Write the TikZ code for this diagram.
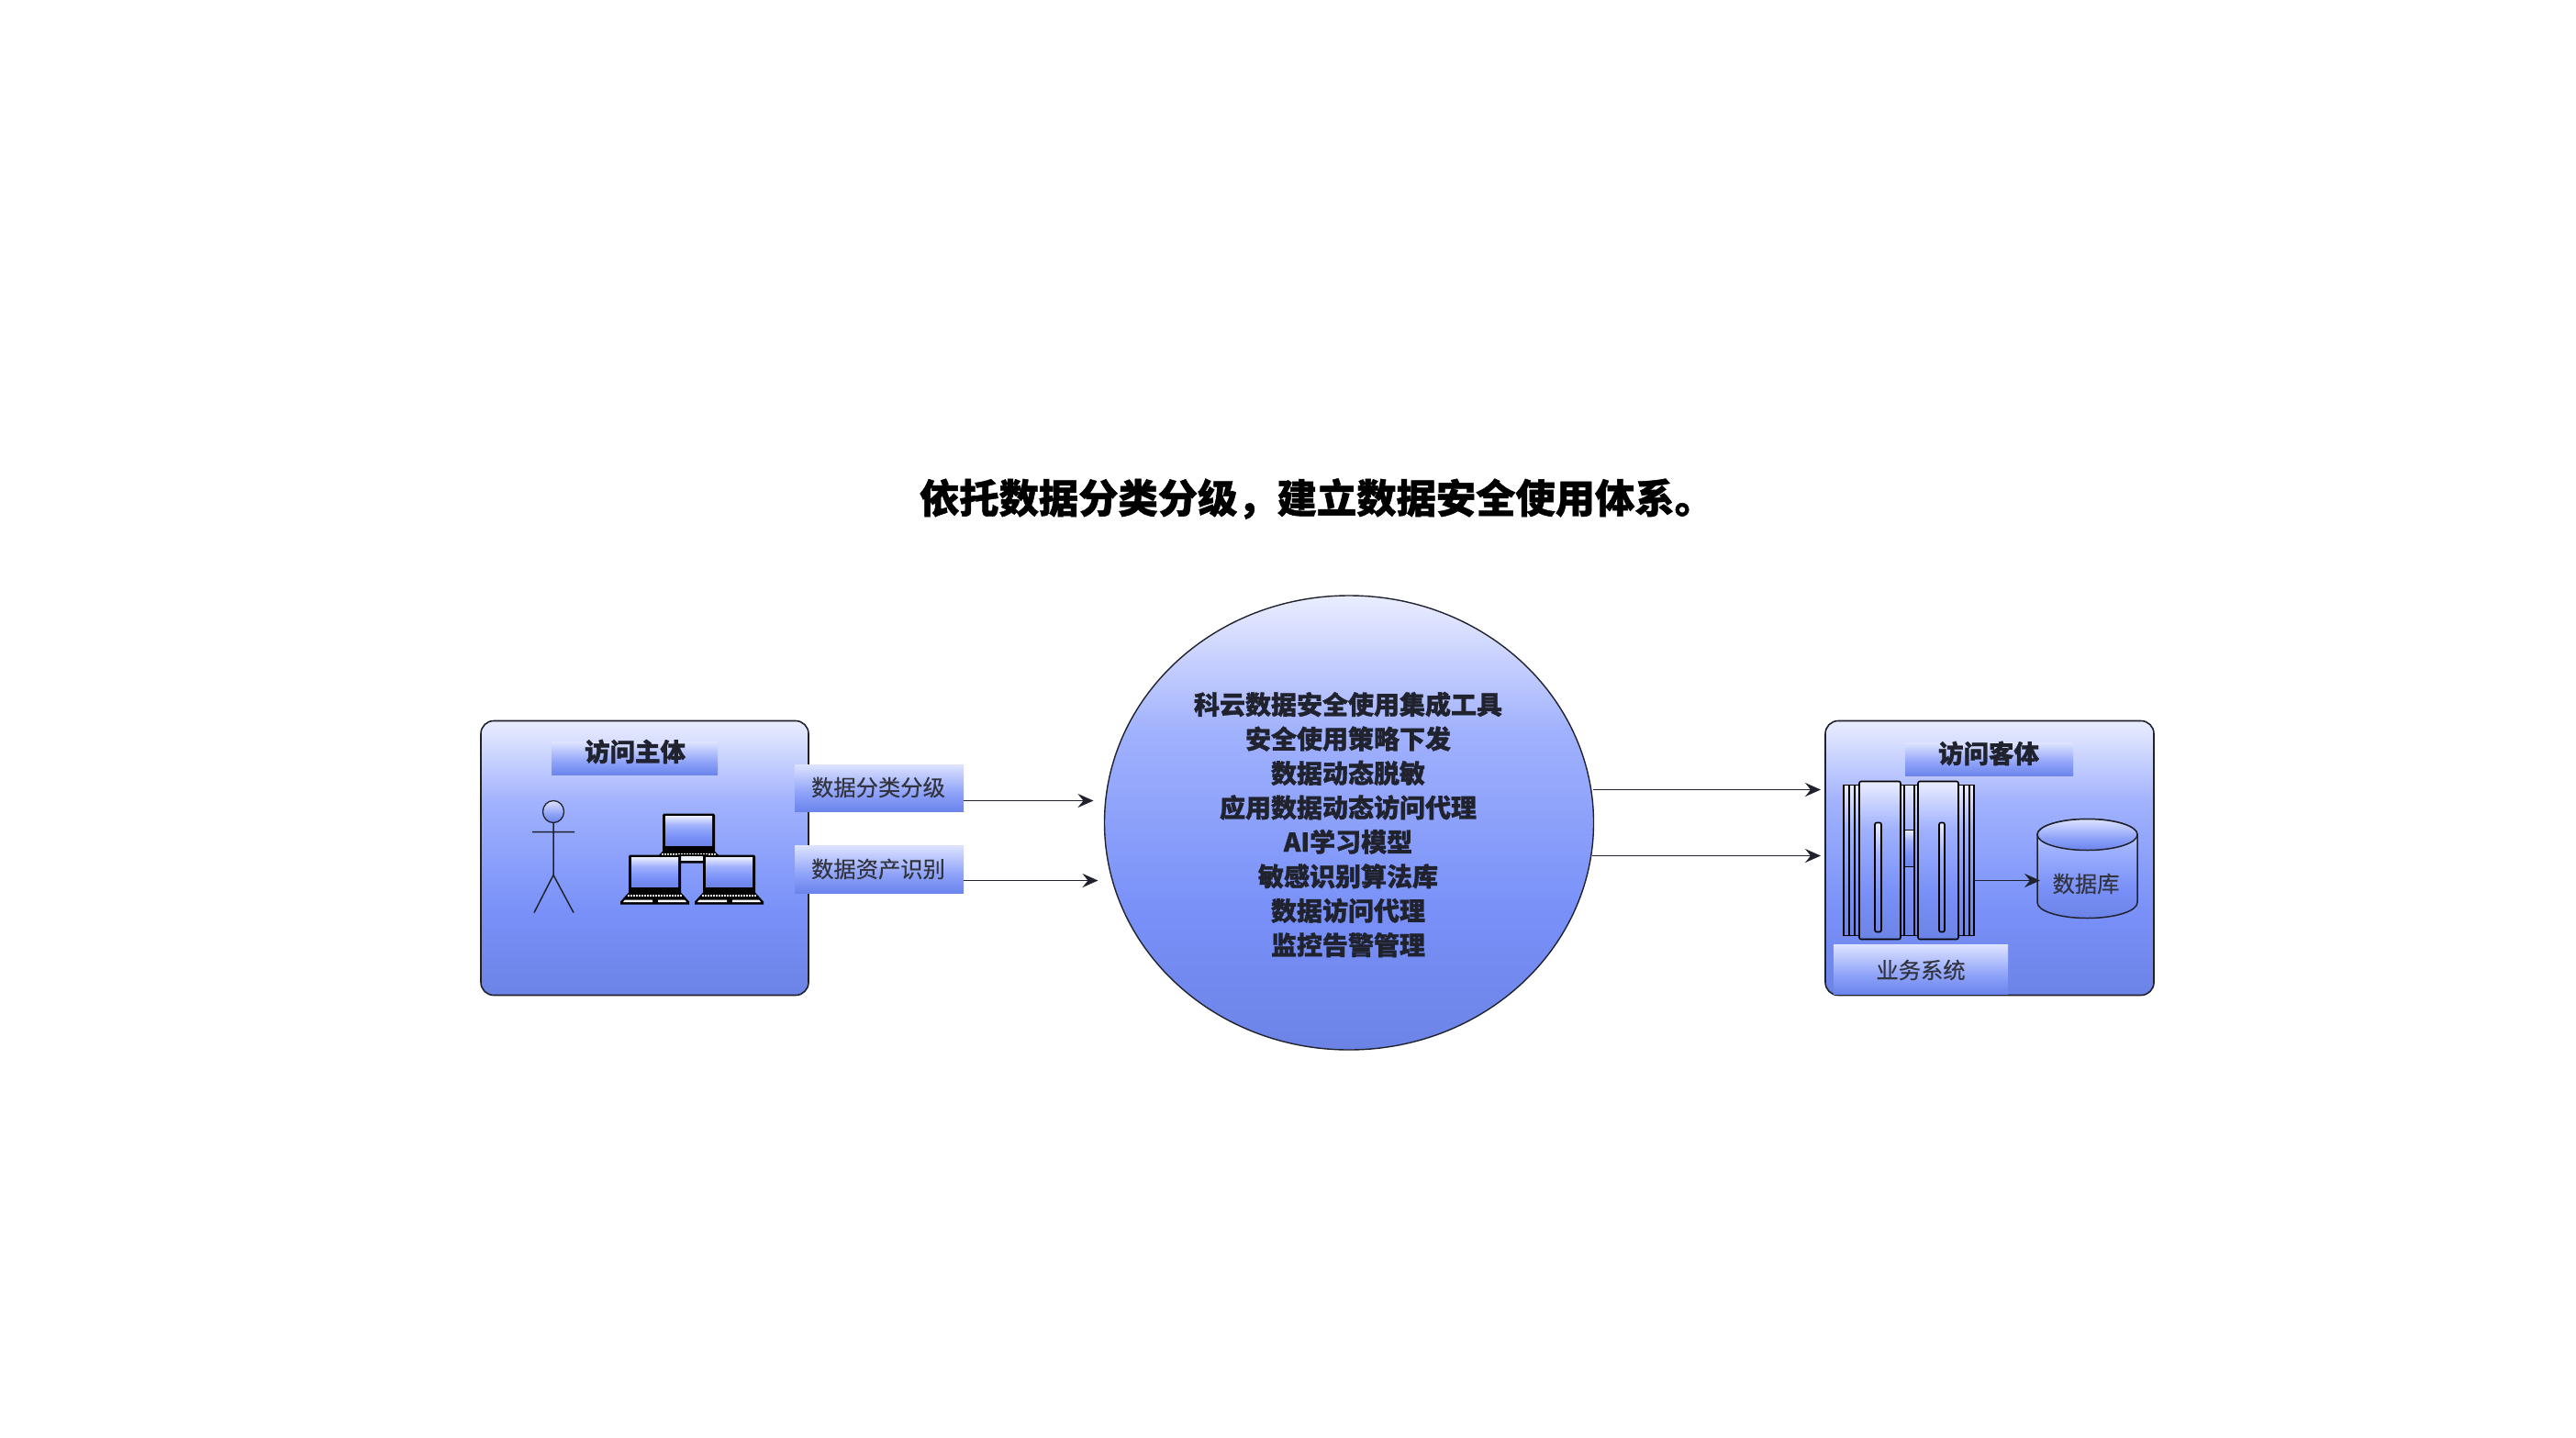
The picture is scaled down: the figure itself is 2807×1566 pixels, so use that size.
\documentclass[tikz,border=0pt]{standalone}
\usepackage{fontspec}
\setmainfont{Noto Sans CJK SC}
\newfontfamily\heavy[BoldFeatures={FakeBold=1.1}]{Noto Sans CJK SC}
\newfontfamily\medium[FakeBold=0.35]{Noto Sans CJK SC}
\usetikzlibrary{arrows.meta,calc,shapes.geometric}
\definecolor{ink}{HTML}{20222E}
\definecolor{mb1}{HTML}{EAEDFF}
\definecolor{mb2}{HTML}{A0B1FD}
\definecolor{mb3}{HTML}{7890F8}
\definecolor{mb4}{HTML}{6C83E6}
\definecolor{lb1}{HTML}{DDE3FF}
\definecolor{lb2}{HTML}{8FA3F9}
\definecolor{lb3}{HTML}{6A84EC}
\pgfdeclareverticalshading{mainbg}{100bp}{
 color(0bp)=(mb4); color(25bp)=(mb4); color(40bp)=(mb3); color(60bp)=(mb2); color(75bp)=(mb1); color(100bp)=(mb1)}
\pgfdeclareverticalshading{labbg}{100bp}{
 color(0bp)=(lb3); color(25bp)=(lb3); color(45bp)=(lb2); color(75bp)=(lb1); color(100bp)=(lb1)}
\newcommand{\fs}[2][]{\fontsize{#2}{#2}\selectfont}
\tikzset{
 x=1pt,y=-1pt,
 every node/.style={inner sep=0pt,outer sep=0pt},
 mainbox/.style={draw=ink,line width=1.6pt,rounded corners=14pt,shading=mainbg,minimum width=#1,minimum height=299pt},
 labbox/.style 2 args={shading=labbg,minimum width=#1,minimum height=#2},
 head/.style={text=ink,font=\heavy\fs{27.5}\bfseries},
 small/.style={text=ink!92,font=\medium\fs{24.3}},
 conn/.style={draw=ink,line width=1.9pt,-{Stealth[length=17pt,width=15pt,inset=6pt]}},
 part/.style={draw=black,line width=1.6pt,shading=mainbg},
 laptop/.pic={
  \fill[black,rounded corners=1.5pt] (-2,-2) rectangle (55,40);
  \shade[shading=mainbg] (1,1) rectangle (52,33);
  \fill[black] (-1,38) -- (54,38) -- (64,49) -- (64,52) -- (-11,52) -- (-11,49) -- cycle;
  \draw[white,line width=2pt,dash pattern=on 1.5pt off 1.5pt] (-3,42) -- (56,42);
  \fill[white] (-6,47) -- (24,47) -- (24,49.5) -- (-8,49.5) -- cycle;
  \fill[white] (30,47) -- (59,47) -- (61,49.5) -- (30,49.5) -- cycle;
 }
}
\begin{document}
\begin{tikzpicture}
\useasboundingbox[fill=white] (0,0) rectangle (2807,1566);
\begin{scope}[yshift=-1.5pt]
\node (title) at (1435,542) {\heavy\fs{43.3}\bfseries\textcolor{black}{依托数据分类分级，建立数据安全使用体系。}};

% left box
\node[mainbox=357pt] (lbox) at (702.5,933.5) {};
\node[labbox={181pt}{36pt}] (ltitle) at (691.5,825) {};
\node[head] (ltext) at (692,817.5) {访问主体};

% person
\node[draw=ink,line width=1.3pt,ellipse,minimum width=23pt,minimum height=24pt,shading=labbg] (phead) at (603,883) {};
\coordinate (arml) at (580,905);
\coordinate (armr) at (626,905);
\coordinate (hip) at (603,952);
\coordinate (legl) at (582,993);
\coordinate (legr) at (625,993);
\draw[ink,line width=1.5pt] (phead.south) -- (hip) (arml) -- (armr) (legl) -- (hip) -- (legr);

% laptops
\pic at (724,887) {laptop};
\node[draw=black,fill=white!85!lb2,line width=2pt,minimum width=30pt,minimum height=7pt] (lanbar) at (755,933.5) {};
\pic at (687,932) {laptop};
\pic at (768,932) {laptop};

% labels left
\node[labbox={184pt}{51pt}] (lab1) at (958,857) {};
\node[small] at (957,856.5) {数据分类分级};
\node[labbox={184pt}{52pt}] (lab2) at (958,945.5) {};
\node[small] at (957,945.5) {数据资产识别};

% right box
\node[mainbox=358pt] (rbox) at (2168,933.5) {};
\node[labbox={183pt}{36pt}] (rtitle) at (2167.5,826) {};
\node[head] (rtext) at (2167,819.5) {访问客体};

% server
\node[part,minimum width=142pt,minimum height=164pt] (srv) at (2080,936) {};
\foreach \xa/\xb in {2015/2021,2021/2026,2134/2140,2140/2146}
  \draw[black,line width=1.6pt] (\xa,854) -- (\xa,1018) (\xb,854) -- (\xb,1018);
\draw[part,rounded corners=2pt] (2026,850) rectangle (2071,1022);
\draw[part,rounded corners=2pt] (2090,850) rectangle (2134,1022);
\draw[part,rounded corners=2pt] (2043,895) rectangle (2050,1014);
\draw[part,rounded corners=2pt] (2113,895) rectangle (2119,1014);
\draw[black,line width=1.6pt] (2075,854) -- (2075,1018) (2086,854) -- (2086,1018);
\draw[part] (2075,903) rectangle (2086,943);

% database
\node[minimum width=109pt,minimum height=91pt] (db) at (2274.5,953.5) {};
\draw[part,draw=ink,line width=1.5pt] (2220,908) -- (2220,982) arc[start angle=180,end angle=360,x radius=54.5pt,y radius=17pt] -- (2329,908) arc[start angle=0,end angle=180,x radius=54.5pt,y radius=17pt] -- cycle;
\draw[draw=ink,line width=1.5pt,shading=labbg] (2274.5,908) ellipse[x radius=54.5pt,y radius=17pt];
\node[small] at (2273,961.5) {数据库};

\node[labbox={190pt}{54pt}] (biz) at (2093,1055) {};
\node[small] at (2093,1055.5) {业务系统};

% circle
\node[draw=ink,line width=1.4pt,ellipse,shading=mainbg,minimum width=533pt,minimum height=495pt] (core) at (1470,895) {};
\node[align=center,text=ink,font=\heavy\fontsize{28}{37.45}\selectfont\bfseries] (coretext) at (1469,897) {%
科云数据安全使用集成工具\\
安全使用策略下发\\
数据动态脱敏\\
应用数据动态访问代理\\
AI学习模型\\
敏感识别算法库\\
数据访问代理\\
监控告警管理};

% connectors
\coordinate (a1) at ($(lab1.east)+(0,14)$);
\coordinate (a2) at ($(lab2.east)+(0,12.5)$);
\coordinate (b1) at ($(core.east)+(0,-36)$);
\coordinate (b2) at ($(core.east)+(0,36)$);
\coordinate (d1) at ($(srv.east)+(0,22)$);
\draw[conn,shorten >=12pt] (a1) -- (a1 -| core.west);
\draw[conn,shorten >=7pt] (a2) -- (a2 -| core.west);
\draw[conn,shorten <=-1pt,shorten >=5pt] (b1) -- (b1 -| rbox.west);
\draw[conn,shorten <=-2pt,shorten >=5pt] (b2) -- (b2 -| rbox.west);
\draw[conn,shorten >=-3pt] (d1) -- (d1 -| db.west);
\end{scope}
\end{tikzpicture}
\end{document}
